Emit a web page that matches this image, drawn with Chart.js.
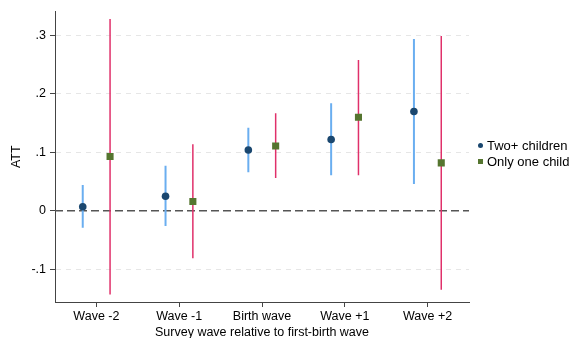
<!DOCTYPE html>
<html>
<head>
<meta charset="utf-8">
<script src="https://cdn.jsdelivr.net/npm/chart.js@4.4.1/dist/chart.umd.min.js"></script>
<style>
  html, body { margin: 0; padding: 0; background: #fff; }
  #wrap { width: 571px; height: 338px; position: relative; overflow: hidden; }
  #legend { position: absolute; left: 478px; top: 138px; font: 13px 'Liberation Sans', Arial, Helvetica, sans-serif; color: #000; }
  #legend div { height: 16px; line-height: 16px; white-space: nowrap; position: relative; padding-left: 9px; }
  #legend span { position: absolute; left: 0; top: 5px; width: 5px; height: 5px; }
</style>
</head>
<body>
<div id="wrap"><canvas id="chart" width="571" height="338"></canvas><div id="legend"></div></div>
<script>
// categories and tick labels
const waves = ['Wave -2', 'Wave -1', 'Birth wave', 'Wave +1', 'Wave +2'];
const yTicks = [-0.1, 0, 0.1, 0.2, 0.3];

// Two+ children: estimate, lower and upper CI
const twoEst = [0.007, 0.025, 0.104, 0.122, 0.170];
const twoLo = [-0.029, -0.026, 0.066, 0.061, 0.046];
const twoHi = [0.044, 0.077, 0.142, 0.184, 0.294];

// Only one child: estimate, lower and upper CI
const oneEst = [0.093, 0.016, 0.111, 0.160, 0.082];
const oneLo = [-0.143, -0.081, 0.056, 0.061, -0.135];
const oneHi = [0.328, 0.114, 0.167, 0.258, 0.299];

const shift = 0.165;
const font = { family: 'Liberation Sans, Arial, Helvetica, sans-serif', size: 12.5 };

function points(est, dx) {
  return est.map((v, i) => ({ x: i + 1 + dx, y: v }));
}

// each CI is a vertical segment, gaps between them
function segments(lo, hi, dx) {
  let out = [];
  for (let i = 0; i < lo.length; i++) {
    out.push({ x: i + 1 + dx, y: lo[i] });
    out.push({ x: i + 1 + dx, y: hi[i] });
    out.push({ x: i + 1 + dx, y: null });
  }
  return out;
}

const chart = new Chart(document.getElementById('chart'), {
  type: 'scatter',
  data: {
    datasets: [{
      label: 'Two+ children',
      data: points(twoEst, -shift),
      pointStyle: 'circle',
      pointRadius: 3.8,
      backgroundColor: '#1a476f',
      borderColor: '#1a476f',
      borderWidth: 0
    }, {
      label: 'Only one child',
      data: points(oneEst, shift),
      pointStyle: 'rect',
      pointRadius: 5,
      backgroundColor: '#55752f',
      borderColor: '#55752f',
      borderWidth: 0
    }, {
      label: 'ci1',
      data: segments(twoLo, twoHi, -shift),
      showLine: true,
      spanGaps: false,
      pointRadius: 0,
      borderColor: '#6aaef0',
      borderWidth: 2
    }, {
      label: 'ci2',
      data: segments(oneLo, oneHi, shift),
      showLine: true,
      spanGaps: false,
      pointRadius: 0,
      borderColor: '#e0306a',
      borderWidth: 1.5
    }, {
      label: 'zero',
      data: [{ x: 0.5, y: 0 }, { x: 5.5, y: 0 }],
      showLine: true,
      pointRadius: 0,
      borderColor: '#555',
      borderWidth: 1.5,
      borderDash: [8, 4]
    }]
  },
  options: {
    responsive: false,
    animation: false,
    layout: { padding: { top: 8, left: 9, right: 102, bottom: 0 } },
    plugins: {
      tooltip: { enabled: false },
      legend: { display: false }
    },
    scales: {
      x: {
        type: 'linear',
        min: 0.5,
        max: 5.5,
        afterBuildTicks: (s) => { s.ticks = waves.map((w, i) => ({ value: i + 1 })); },
        afterFit: (s) => { s.height = 36; },
        ticks: {
          color: '#000',
          font: font,
          padding: 2,
          autoSkip: false,
          maxRotation: 0,
          callback: (v) => waves[v - 1]
        },
        grid: { drawOnChartArea: false, tickLength: 5, tickColor: '#444' },
        border: { color: '#444', width: 1 },
        title: {
          display: true,
          text: 'Survey wave relative to first-birth wave',
          color: '#000',
          font: font,
          padding: { top: 0, bottom: -2 }
        }
      },
      y: {
        min: -0.156,
        max: 0.341,
        afterBuildTicks: (s) => { s.ticks = yTicks.map((v) => ({ value: v })); },
        afterFit: (s) => { s.width = 46; },
        ticks: {
          color: '#000',
          font: font,
          padding: 4,
          callback: (v) => v === 0 ? '0' : (v < 0 ? '-' : '') + String(Math.abs(v).toFixed(1)).replace(/^0/, '')
        },
        grid: {
          color: (c) => c.tick && c.tick.value === 0 ? 'rgba(0,0,0,0)' : '#e6e6e6',
          lineWidth: 1,
          tickLength: 5,
          tickColor: '#444',
          tickBorderDash: []
        },
        border: { color: '#444', width: 1, dash: [5, 5] },
        title: {
          display: true,
          text: 'ATT',
          color: '#000',
          font: font,
          padding: { top: 0, bottom: 4 }
        }
      }
    }
  }
});

// legend for the two estimate series
const legend = document.getElementById('legend');
chart.data.datasets.slice(0, 2).forEach((ds) => {
  let row = document.createElement('div');
  let mark = document.createElement('span');
  mark.style.background = ds.backgroundColor;
  if (ds.pointStyle === 'circle') mark.style.borderRadius = '50%';
  row.appendChild(mark);
  row.appendChild(document.createTextNode(ds.label));
  legend.appendChild(row);
});
</script>
</body>
</html>
